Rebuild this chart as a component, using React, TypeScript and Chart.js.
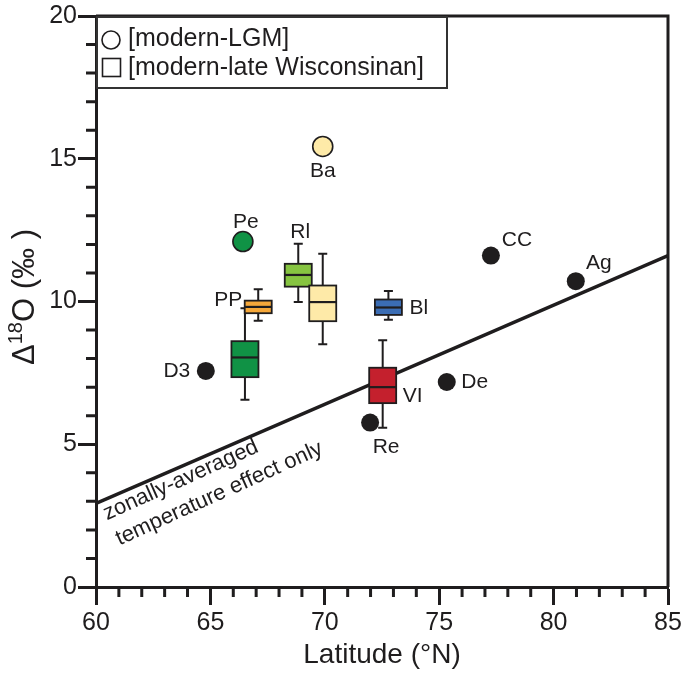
import { useEffect, useRef } from 'react';
import { Chart, registerables } from 'chart.js';

Chart.register(...registerables);

const FONT = '"Liberation Sans", Arial, Helvetica, sans-serif';
const INK = '#1f1d1e';

// Axis ranges / ticks
const X_MIN = 60;
const X_MAX = 85;
const Y_MIN = 0;
const Y_MAX = 20;
const X_MAJOR_STEP = 5;
const Y_MAJOR_STEP = 5;

// zonally-averaged temperature effect line (latitude, Δ18O)
const lineLat = [60, 85];
const lineD18O = [2.93, 11.61];

// modern - LGM sites (circles)
const blackSites = ['D3', 'Re', 'De', 'CC', 'Ag'];
const blackLat = [64.8, 71.98, 75.33, 77.26, 80.97];
const blackD18O = [7.57, 5.76, 7.18, 11.61, 10.71];

const peSite = ['Pe'];
const peLat = [66.42];
const peD18O = [12.1];

const baSite = ['Ba'];
const baLat = [69.91];
const baD18O = [15.43];

// modern - late Wisconsinan sites (box plots)
const boxSites = ['', 'PP', 'Rl', '', 'VI', 'Bl'];
const boxLat = [66.51, 67.09, 68.84, 69.91, 72.53, 72.78];
const boxLow = [6.56, 9.33, 9.98, 8.5, 5.58, 9.36];
const boxQ1 = [7.35, 9.59, 10.52, 9.31, 6.44, 9.53];
const boxMedian = [8.04, 9.81, 10.93, 9.98, 7.0, 9.79];
const boxQ3 = [8.61, 10.03, 11.32, 10.56, 7.68, 10.07];
const boxHigh = [9.76, 10.43, 12.02, 11.67, 8.64, 10.37];
const boxColors = ['#109245', '#f6a83a', '#86c441', '#feeaa8', '#c4202d', '#3b6db4'];
const BOX_WIDTH_DEG = 1.18;

// legend
const legendTexts = ['[modern-LGM]', '[modern-late Wisconsinan]'];

// label placement (pixel offsets, style only)
const blackLabelOffsets = [[-29, 0], [16, 25], [28, 0], [26, -15], [23, -18]];
const peLabelOffset = [3, -19];
const baLabelOffset = [0, 25];
const boxLabelPlacement: Array<[number, number, CanvasTextAlign]> = [
  [0, 0, 'center'],
  [-16, -7, 'right'],
  [2, -43, 'center'],
  [0, 0, 'center'],
  [20, 9, 'left'],
  [21, 1, 'left'],
];

function toPoints(xs: number[], ys: number[]) {
  return xs.map((x, i) => ({ x, y: ys[i] }));
}

const boxPlugin = {
  id: 'boxes',
  afterDatasetDraw(chart: any, args: any) {
    if (args.index !== 0) return;
    const { ctx, scales } = chart;
    const xs = scales.x;
    const ys = scales.y;
    ctx.save();
    ctx.strokeStyle = INK;
    for (let i = 0; i < boxLat.length; i++) {
      const cx = xs.getPixelForValue(boxLat[i]);
      const left = xs.getPixelForValue(boxLat[i] - BOX_WIDTH_DEG / 2);
      const right = xs.getPixelForValue(boxLat[i] + BOX_WIDTH_DEG / 2);
      const yLow = ys.getPixelForValue(boxLow[i]);
      const yQ1 = ys.getPixelForValue(boxQ1[i]);
      const yMed = ys.getPixelForValue(boxMedian[i]);
      const yQ3 = ys.getPixelForValue(boxQ3[i]);
      const yHigh = ys.getPixelForValue(boxHigh[i]);
      // whiskers
      ctx.lineWidth = 2;
      ctx.beginPath();
      ctx.moveTo(cx, yHigh);
      ctx.lineTo(cx, yQ3);
      ctx.moveTo(cx, yQ1);
      ctx.lineTo(cx, yLow);
      ctx.moveTo(cx - 4.5, yHigh);
      ctx.lineTo(cx + 4.5, yHigh);
      ctx.moveTo(cx - 4.5, yLow);
      ctx.lineTo(cx + 4.5, yLow);
      ctx.stroke();
      // box
      ctx.fillStyle = boxColors[i];
      ctx.fillRect(left, yQ3, right - left, yQ1 - yQ3);
      ctx.lineWidth = 1.8;
      ctx.strokeRect(left, yQ3, right - left, yQ1 - yQ3);
      ctx.lineWidth = 2.2;
      ctx.beginPath();
      ctx.moveTo(left, yMed);
      ctx.lineTo(right, yMed);
      ctx.stroke();
    }
    ctx.restore();
  },
};

const decorPlugin = {
  id: 'decor',
  afterDraw(chart: any) {
    const { ctx, scales, chartArea } = chart;
    const xs = scales.x;
    const ys = scales.y;
    const { left, right, top, bottom } = chartArea;
    ctx.save();

    // frame top and right
    ctx.strokeStyle = INK;
    ctx.lineWidth = 3;
    ctx.beginPath();
    ctx.moveTo(left, top);
    ctx.lineTo(right, top);
    ctx.lineTo(right, bottom);
    ctx.stroke();

    // minor ticks
    ctx.lineWidth = 3;
    ctx.beginPath();
    for (let v = Y_MIN + 1; v < Y_MAX; v++) {
      if (v % Y_MAJOR_STEP === 0) continue;
      const py = ys.getPixelForValue(v);
      ctx.moveTo(left - 10, py);
      ctx.lineTo(left, py);
    }
    for (let v = X_MIN + 1; v < X_MAX; v++) {
      if (v % X_MAJOR_STEP === 0) continue;
      const px = xs.getPixelForValue(v);
      ctx.moveTo(px, bottom);
      ctx.lineTo(px, bottom + 10);
    }
    ctx.stroke();

    // point labels
    ctx.fillStyle = INK;
    ctx.font = `21px ${FONT}`;
    ctx.textBaseline = 'middle';
    ctx.textAlign = 'center';
    blackSites.forEach((s, i) => {
      const px = xs.getPixelForValue(blackLat[i]);
      const py = ys.getPixelForValue(blackD18O[i]);
      ctx.fillText(s, px + blackLabelOffsets[i][0], py + blackLabelOffsets[i][1]);
    });
    ctx.fillText(peSite[0], xs.getPixelForValue(peLat[0]) + peLabelOffset[0], ys.getPixelForValue(peD18O[0]) + peLabelOffset[1]);
    ctx.fillText(baSite[0], xs.getPixelForValue(baLat[0]) + baLabelOffset[0], ys.getPixelForValue(baD18O[0]) + baLabelOffset[1]);
    boxSites.forEach((s, i) => {
      if (!s) return;
      const [dx, dy, align] = boxLabelPlacement[i];
      ctx.textAlign = align;
      ctx.fillText(s, xs.getPixelForValue(boxLat[i]) + dx, ys.getPixelForValue(boxMedian[i]) + dy);
    });

    // annotation along line
    const x1 = xs.getPixelForValue(lineLat[0]);
    const y1 = ys.getPixelForValue(lineD18O[0]);
    const x2 = xs.getPixelForValue(lineLat[1]);
    const y2 = ys.getPixelForValue(lineD18O[1]);
    const ang = Math.atan2(y2 - y1, x2 - x1) - 0.015;
    ctx.save();
    ctx.translate(x1, y1);
    ctx.rotate(ang);
    ctx.textAlign = 'left';
    ctx.textBaseline = 'alphabetic';
    ctx.font = `22px ${FONT}`;
    ctx.fillText('zonally-averaged', 3, 20);
    ctx.fillText('temperature effect only', 4, 48);
    ctx.restore();

    // legend box
    ctx.lineWidth = 2;
    ctx.strokeStyle = '#333';
    ctx.fillStyle = '#fff';
    ctx.fillRect(97, 17, 350, 71);
    ctx.strokeRect(97, 17, 350, 71);
    ctx.lineWidth = 1.6;
    ctx.strokeStyle = INK;
    ctx.beginPath();
    ctx.arc(111, 40, 9, 0, Math.PI * 2);
    ctx.stroke();
    ctx.strokeRect(102.5, 58.5, 18, 18);
    ctx.fillStyle = INK;
    ctx.font = `25px ${FONT}`;
    ctx.textAlign = 'left';
    ctx.textBaseline = 'middle';
    ctx.fillText(legendTexts[0], 128, 39);
    ctx.fillText(legendTexts[1], 128, 68);

    // y title with superscript
    ctx.save();
    ctx.translate(34, 297);
    ctx.rotate(-Math.PI / 2);
    ctx.textBaseline = 'alphabetic';
    ctx.textAlign = 'left';
    const big = `31px ${FONT}`;
    const small = `20px ${FONT}`;
    ctx.font = big;
    const wD = ctx.measureText('Δ').width;
    const wRest = ctx.measureText('O (‰ )').width;
    ctx.font = small;
    const wS = ctx.measureText('18').width;
    const total = wD + wS + wRest;
    let cx = -total / 2;
    ctx.font = big;
    ctx.fillText('Δ', cx, 0);
    cx += wD;
    ctx.font = small;
    ctx.fillText('18', cx, -12);
    cx += wS;
    ctx.font = big;
    ctx.fillText('O (‰ )', cx, 0);
    ctx.restore();

    ctx.restore();
  },
};

export default function App() {
  const ref = useRef<HTMLCanvasElement | null>(null);
  useEffect(() => {
    if (!ref.current) return;
    const chart = new Chart(ref.current, {
      type: 'scatter',
      data: {
        datasets: [
          {
            label: 'line',
            data: toPoints(lineLat, lineD18O),
            showLine: true,
            borderColor: INK,
            borderWidth: 3.5,
            pointRadius: 0,
            order: 10,
          } as any,
          {
            label: 'modern-LGM',
            data: toPoints(blackLat, blackD18O),
            pointRadius: 9,
            backgroundColor: INK,
            borderWidth: 0,
            order: 0,
          },
          {
            label: 'Pe',
            data: toPoints(peLat, peD18O),
            pointRadius: 10,
            backgroundColor: '#109245',
            borderColor: INK,
            borderWidth: 1.6,
            order: 0,
          },
          {
            label: 'Ba',
            data: toPoints(baLat, baD18O),
            pointRadius: 10,
            backgroundColor: '#feeaa8',
            borderColor: INK,
            borderWidth: 1.6,
            order: 0,
          },
        ],
      },
      options: {
        animation: false,
        responsive: false,
        maintainAspectRatio: false,
        layout: { padding: { left: 0, top: 15, right: 17, bottom: 0 } },
        plugins: { legend: { display: false }, tooltip: { enabled: false } },
        scales: {
          x: {
            type: 'linear',
            min: X_MIN,
            max: X_MAX,
            afterFit: (s: any) => { s.height = 91; },
            ticks: { stepSize: X_MAJOR_STEP, color: INK, font: { size: 25, family: FONT }, padding: 3, maxRotation: 0 },
            grid: { drawOnChartArea: false, drawTicks: true, tickLength: 18, tickWidth: 3, tickColor: INK },
            border: { display: true, width: 3, color: INK },
            title: { display: true, text: 'Latitude (°N)', color: INK, font: { size: 28, family: FONT }, padding: { top: 0, bottom: 6 } },
          },
          y: {
            type: 'linear',
            min: Y_MIN,
            max: Y_MAX,
            afterFit: (s: any) => { s.width = 96; },
            ticks: { stepSize: Y_MAJOR_STEP, color: INK, font: { size: 25, family: FONT }, padding: 1 },
            grid: { drawOnChartArea: false, drawTicks: true, tickLength: 18, tickWidth: 3, tickColor: INK },
            border: { display: true, width: 3, color: INK },
          },
        },
      },
      plugins: [boxPlugin, decorPlugin],
    });
    return () => chart.destroy();
  }, []);
  return (
    <div style={{ position: 'absolute', left: 0, top: 0, width: 685, height: 678, background: '#fff' }}>
      <canvas ref={ref} width={685} height={678} />
    </div>
  );
}
